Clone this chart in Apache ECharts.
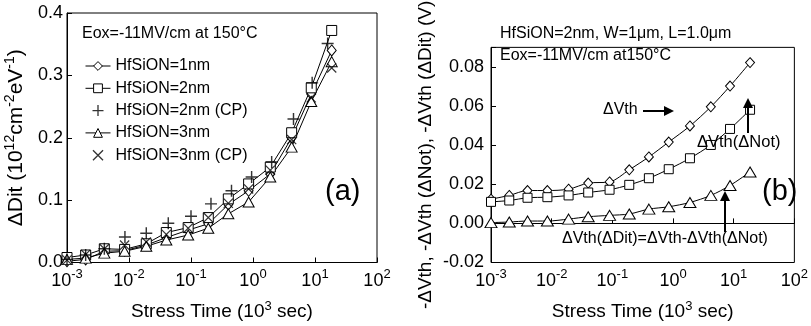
<!DOCTYPE html>
<html><head><meta charset="utf-8">
<script src="https://cdn.jsdelivr.net/npm/echarts@6/dist/echarts.min.js"></script>
<style>html,body{margin:0;padding:0;background:#fff}#c{width:811px;height:326px}</style>
</head><body><div id="c"></div>
<script>
// ---- data ----
const xMain = [0.001,0.002,0.004,0.0085,0.019,0.04,0.09,0.19,0.4,0.85,1.9,4.2,8.7,18.6];
const dit1nm = [0.002,0.005,0.018,0.019,0.028,0.040,0.052,0.062,0.093,0.115,0.142,0.200,0.270,0.340];
const dit2nm = [0.008,0.012,0.022,0.021,0.030,0.048,0.056,0.072,0.102,0.126,0.153,0.208,0.280,0.372];
const dit3nm = [0.005,0.007,0.015,0.018,0.026,0.036,0.044,0.055,0.078,0.097,0.137,0.185,0.258,0.322];
const xCP2 = [0.001,0.002,0.004,0.0086,0.019,0.043,0.1,0.21,0.45,0.95,2.0,4.5,9.0,16];
const ditCP2 = [0.005,0.012,0.022,0.041,0.047,0.063,0.074,0.094,0.115,0.137,0.161,0.230,0.288,0.351];
const ditCP3 = [0.004,0.013,0.022,0.028,0.033,0.045,0.055,0.072,0.095,0.118,0.148,0.197,0.264,0.312];
const xRight = [0.001,0.002,0.004,0.0085,0.019,0.04,0.09,0.19,0.4,0.85,1.9,4.2,8.7,18.6];
const vth = [0.0124,0.0143,0.0168,0.0168,0.0175,0.0206,0.0212,0.0274,0.034,0.0416,0.0498,0.0596,0.0702,0.0822];
const vthNot = [0.011,0.0117,0.0131,0.0134,0.0143,0.0158,0.0172,0.0197,0.0231,0.0277,0.0333,0.0401,0.0483,0.0581];
const vthDit = [0.0004,0.0007,0.0012,0.0012,0.0022,0.0034,0.0041,0.0048,0.0073,0.0085,0.0107,0.0143,0.0194,0.0263];
const leftNames = ['HfSiON=1nm','HfSiON=2nm','HfSiON=2nm (CP)','HfSiON=3nm','HfSiON=3nm (CP)'];
const xTitle = 'Stress Time (10{s|3} sec)';
const yTitleLeft = 'ΔDit (10{s|12}cm{s|-2}eV{s|-1})';
const yTitleRight = '-ΔVth, -ΔVth (ΔNot), -ΔVth (ΔDit) (V)';

// ---- chart ----
const FONT = 'Liberation Sans, Arial, Helvetica, sans-serif';
const zip = (xs, ys) => xs.map((x, i) => [x, ys[i]]);
const plusPath = 'path://M4.4,0h1.2v10h-1.2z M0,4.4h10v1.2h-10z';
const crossPath = 'path://M0,0.85L0.85,0L10,9.15L9.15,10Z M9.15,0L10,0.85L0.85,10L0,9.15Z';
const hollow = {color: '#fff', borderColor: '#000', borderWidth: 1};
const richSup = {
  b: {fontSize: 18, fontFamily: FONT, color: '#000', verticalAlign: 'bottom', lineHeight: 23},
  s: {fontSize: 13, fontFamily: FONT, color: '#000', verticalAlign: 'top', lineHeight: 23}
};
function logXAxis(gi) {
  return {
    type: 'log', gridIndex: gi, min: 0.001, max: 100, logBase: 10,
    axisLine: {lineStyle: {color: '#000', width: 1}},
    axisTick: {inside: true, length: 5, lineStyle: {color: '#000'}},
    minorTick: {show: false}, splitLine: {show: false},
    axisLabel: {
      margin: 5,
      formatter: v => '{b|10}{s|' + Math.round(Math.log10(v)) + '}',
      rich: richSup
    },
    name: xTitle, nameLocation: 'middle', nameGap: 37,
    nameTextStyle: {fontSize: 19, fontFamily: FONT, color: '#000',
      rich: {s: {fontSize: 13, fontFamily: FONT, verticalAlign: 'top', lineHeight: 24, color: '#000'}}}
  };
}
const T = (left, top, text, size) => ({type: 'text', left, top, z: 100,
  style: {text, fontSize: size || 16, fontFamily: FONT, fill: '#000'}});
const chart = echarts.init(document.getElementById('c'), null, {renderer: 'canvas'});
const option = {
  animation: false,
  backgroundColor: '#fff',
  textStyle: {fontFamily: FONT},
  grid: [
    {left: 67, right: 434, top: 13, bottom: 62, show: true, borderColor: '#000', borderWidth: 1},
    {left: 491, right: 13, top: 13, bottom: 61, show: true, borderColor: '#000', borderWidth: 1}
  ],
  xAxis: [logXAxis(0), logXAxis(1)],
  yAxis: [
    {type: 'value', gridIndex: 0, min: 0, max: 0.4, interval: 0.1,
     axisLine: {show: true, lineStyle: {color: '#000'}},
     axisTick: {show: true, inside: true, length: 5, lineStyle: {color: '#000'}},
     splitLine: {show: false},
     axisLabel: {fontSize: 18, color: '#000', fontFamily: FONT, margin: 4, formatter: v => v.toFixed(1)},
     name: yTitleLeft, nameLocation: 'middle', nameGap: 38, nameRotate: 90,
     nameTextStyle: {fontSize: 21, fontFamily: FONT, color: '#000',
       rich: {s: {fontSize: 14, fontFamily: FONT, verticalAlign: 'top', lineHeight: 26, color: '#000'}}}},
    {type: 'value', gridIndex: 1, min: -0.02, max: 0.09, interval: 0.02,
     axisLine: {show: true, lineStyle: {color: '#000'}},
     axisTick: {show: true, inside: true, length: 5, lineStyle: {color: '#000'}},
     splitLine: {show: false},
     axisLabel: {fontSize: 18, color: '#000', fontFamily: FONT, margin: 7,
       formatter: v => (v > 0.085 ? '' : v.toFixed(2))},
     name: yTitleRight, nameLocation: 'middle', nameGap: 56, nameRotate: 90,
     nameTextStyle: {fontSize: 19, fontFamily: FONT, color: '#000'}}
  ],
  legend: {
    left: 80, top: 52, orient: 'vertical', itemWidth: 25, itemHeight: 11, itemGap: 4.3,
    textStyle: {fontSize: 16, fontFamily: FONT, color: '#000', lineHeight: 18},
    itemStyle: {borderWidth: 1},
    lineStyle: {width: 1},
    data: leftNames
  },
  series: [
    {name: leftNames[0], type: 'line', xAxisIndex: 0, yAxisIndex: 0, data: zip(xMain, dit1nm),
     symbol: 'diamond', symbolSize: [9, 11], itemStyle: hollow, lineStyle: {color: '#000', width: 1}, z: 3},
    {name: leftNames[1], type: 'line', xAxisIndex: 0, yAxisIndex: 0, data: zip(xMain, dit2nm),
     symbol: 'rect', symbolSize: 10, itemStyle: hollow, lineStyle: {color: '#000', width: 1}, z: 3},
    {name: leftNames[2], type: 'scatter', xAxisIndex: 0, yAxisIndex: 0, data: zip(xCP2, ditCP2),
     symbol: plusPath, symbolSize: 12, symbolKeepAspect: true, itemStyle: {color: '#000'}, z: 4},
    {name: leftNames[3], type: 'line', xAxisIndex: 0, yAxisIndex: 0, data: zip(xMain, dit3nm),
     symbol: 'triangle', symbolSize: [11, 10], itemStyle: hollow, lineStyle: {color: '#000', width: 1}, z: 3},
    {name: leftNames[4], type: 'scatter', xAxisIndex: 0, yAxisIndex: 0, data: zip(xMain, ditCP3),
     symbol: crossPath, symbolSize: 10, symbolKeepAspect: true, itemStyle: {color: '#000'}, z: 4},
    {name: 'ΔVth', type: 'line', xAxisIndex: 1, yAxisIndex: 1, data: zip(xRight, vth), smooth: 0.3,
     symbol: 'diamond', symbolSize: [9, 10], itemStyle: hollow, lineStyle: {color: '#000', width: 1}},
    {name: 'ΔVth(ΔNot)', type: 'line', xAxisIndex: 1, yAxisIndex: 1, data: zip(xRight, vthNot), smooth: 0.3,
     symbol: 'rect', symbolSize: 9, itemStyle: hollow, lineStyle: {color: '#000', width: 1}},
    {name: 'ΔVth(ΔDit)', type: 'line', xAxisIndex: 1, yAxisIndex: 1, data: zip(xRight, vthDit), smooth: 0.3,
     symbol: 'triangle', symbolSize: [12, 10], itemStyle: hollow, lineStyle: {color: '#000', width: 1}}
  ],
  graphic: [
    T(82, 26, 'Eox=-11MV/cm at 150°C'),
    T(325, 177, '(a)', 29),
    T(500, 26, 'HfSiON=2nm, W=1μm, L=1.0μm'),
    T(500, 48, 'Eox=-11MV/cm at150°C'),
    T(603, 102, 'ΔVth'),
    T(697, 134, 'ΔVth(ΔNot)', 16.5),
    T(562, 231, 'ΔVth(ΔDit)=ΔVth-ΔVth(ΔNot)'),
    T(762, 177, '(b)', 29),
    // arrows
    {type: 'line', z: 100, shape: {x1: 643, y1: 111, x2: 668, y2: 111}, style: {stroke: '#000', lineWidth: 2}},
    {type: 'polygon', z: 100, shape: {points: [[674, 111], [664, 106], [664, 116]]}, style: {fill: '#000'}},
    {type: 'line', z: 100, shape: {x1: 748, y1: 133, x2: 748, y2: 105}, style: {stroke: '#000', lineWidth: 2}},
    {type: 'polygon', z: 100, shape: {points: [[748, 98], [743, 108], [753, 108]]}, style: {fill: '#000'}},
    {type: 'line', z: 100, shape: {x1: 725, y1: 232, x2: 725, y2: 198}, style: {stroke: '#000', lineWidth: 2}},
    {type: 'polygon', z: 100, shape: {points: [[725, 191], [720, 201], [730, 201]]}, style: {fill: '#000'}}
  ]
};
chart.setOption(option);
</script></body></html>
